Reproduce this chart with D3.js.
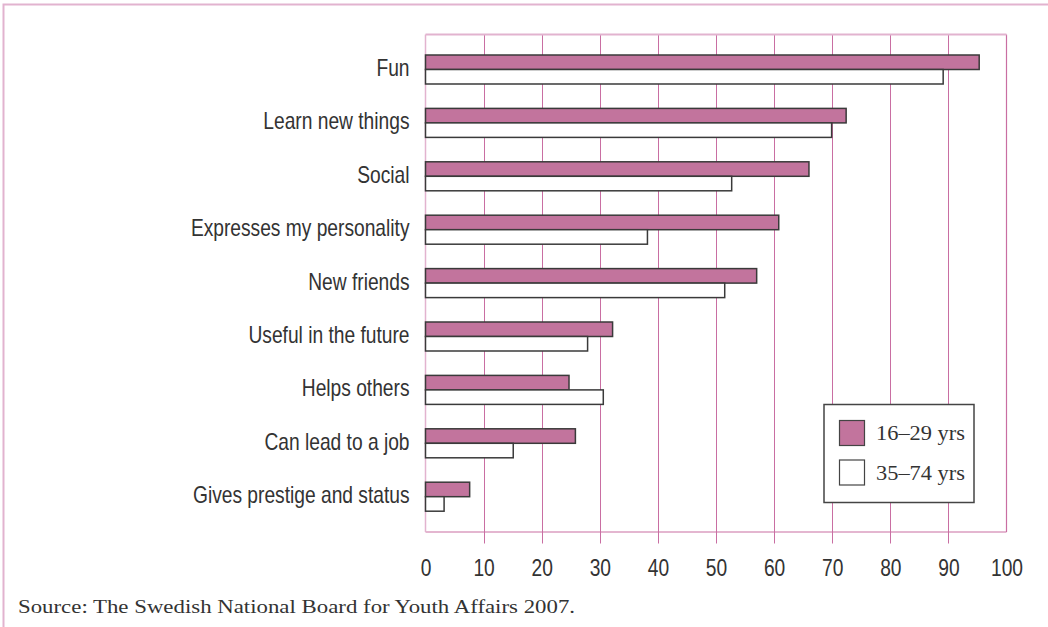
<!DOCTYPE html>
<html>
<head>
<meta charset="utf-8">
<script src="https://cdn.jsdelivr.net/npm/d3@7"></script>
<style>
  html, body { margin: 0; padding: 0; background: #fff; }
  svg { display: block; }
  .cond { font-family: "Liberation Sans", Arial, sans-serif; }
  .serif { font-family: "Liberation Serif", "DejaVu Serif", serif; }
</style>
</head>
<body>
<svg id="chart" width="1048" height="627"></svg>
<script>
const categories = ["Fun", "Learn new things", "Social", "Expresses my personality", "New friends",
  "Useful in the future", "Helps others", "Can lead to a job", "Gives prestige and status"];
const seriesNames = ["16–29 yrs", "35–74 yrs"];
const young = [95.3, 72.4, 66.0, 60.8, 57.0, 32.2, 24.7, 25.8, 7.6];
const older = [89.1, 69.9, 52.7, 38.2, 51.5, 27.9, 30.6, 15.1, 3.2];
const tickValues = [0, 10, 20, 30, 40, 50, 60, 70, 80, 90, 100];
const sourceText = "Source: The Swedish National Board for Youth Affairs 2007.";

const pink = "#c2749d";
const gridCol = "#c96ea2";
const frameCol = "#e2b3cf";
const ink = "#333";
const narrow = 0.8; // horizontal compression for the condensed sans labels

const svg = d3.select("#chart");

// outer frame (left + top)
svg.append("path")
  .attr("d", "M3.5,627 L3.5,4.5 L1048,4.5")
  .attr("fill", "none").attr("stroke", frameCol).attr("stroke-width", 2);

const plot = { left: 425.5, right: 1006.5, top: 34.5, bottom: 532 };

const x = d3.scaleLinear().domain([0, 100]).range([plot.left, plot.right]);
const y0 = d3.scaleBand().domain(categories).range([42.8, 523.4]).paddingInner(0.457).paddingOuter(0.2285);
const y1 = d3.scaleBand().domain(seriesNames).range([0, y0.bandwidth()]);

// gridlines + ticks
const g = svg.append("g");
g.selectAll("line.grid").data(tickValues.slice(1, -1)).join("line")
  .attr("class", "grid")
  .attr("x1", d => Math.round(x(d)) + 0.5).attr("x2", d => Math.round(x(d)) + 0.5)
  .attr("y1", plot.top).attr("y2", plot.bottom + 11.5)
  .attr("stroke", gridCol).attr("stroke-width", 1);

// plot border
g.append("line").attr("x1", x(100)).attr("x2", x(100)).attr("y1", plot.top).attr("y2", plot.bottom)
  .attr("stroke", gridCol).attr("stroke-width", 1.2);
g.append("line").attr("x1", x(0)).attr("x2", x(100)).attr("y1", plot.bottom).attr("y2", plot.bottom)
  .attr("stroke", gridCol).attr("stroke-width", 1.2);
g.append("line").attr("x1", x(0)).attr("x2", x(100)).attr("y1", plot.top).attr("y2", plot.top)
  .attr("stroke", frameCol).attr("stroke-width", 2);
g.append("line").attr("x1", x(0)).attr("x2", x(0)).attr("y1", plot.top).attr("y2", plot.bottom)
  .attr("stroke", frameCol).attr("stroke-width", 1.5);

// axis (labels only)
const axis = d3.axisBottom(x).tickValues(tickValues).tickSize(0).tickPadding(0).tickFormat(d3.format("d"));
const ax = svg.append("g").attr("transform", `translate(0,576)`).call(axis);
ax.select(".domain").remove();
ax.selectAll("text").attr("class", "cond").attr("font-size", 24).attr("fill", ink)
  .attr("y", 0).attr("dy", 0)
  .attr("transform", `scale(${narrow},1)`);

// bars
const rows = categories.map((c, i) => ({ c, vals: [young[i], older[i]] }));
const rowG = svg.append("g").selectAll("g").data(rows).join("g")
  .attr("transform", d => `translate(0,${y0(d.c)})`);
rowG.selectAll("rect").data(d => d.vals.map((v, j) => ({ s: seriesNames[j], v, j }))).join("rect")
  .attr("x", x(0))
  .attr("y", d => y1(d.s))
  .attr("width", d => x(d.v) - x(0))
  .attr("height", y1.bandwidth())
  .attr("fill", d => d.j === 0 ? pink : "#fff")
  .attr("stroke", "#3a3a3a").attr("stroke-width", 1.5);

// category labels
svg.append("g").selectAll("g").data(categories).join("g")
  .attr("transform", d => `translate(409.5,${y0(d) + y0.bandwidth() / 2 + 6.5}) scale(${narrow},1)`)
  .append("text")
  .attr("class", "cond")
  .attr("text-anchor", "end")
  .attr("font-size", 24).attr("fill", ink)
  .text(d => d);

// legend
const lg = svg.append("g");
lg.append("rect").attr("x", 824).attr("y", 404.5).attr("width", 150).attr("height", 98)
  .attr("fill", "#fff").attr("stroke", "#444").attr("stroke-width", 1.5);
const items = lg.selectAll("g.item").data(seriesNames).join("g").attr("class", "item")
  .attr("transform", (d, i) => `translate(839.5,${420.5 + i * 39.5})`);
items.append("rect").attr("width", 25).attr("height", 25)
  .attr("fill", (d, i) => i === 0 ? pink : "#fff").attr("stroke", "#444").attr("stroke-width", 1.2);
items.append("text").attr("class", "serif").attr("x", 36.5).attr("y", 19.5)
  .attr("font-size", 20).attr("fill", ink)
  .attr("textLength", 89).attr("lengthAdjust", "spacingAndGlyphs")
  .text(d => d);

// source
svg.append("text").attr("class", "serif").attr("x", 18).attr("y", 613)
  .attr("font-size", 19.5).attr("fill", ink)
  .attr("textLength", 557).attr("lengthAdjust", "spacingAndGlyphs")
  .text(sourceText);
</script>
</body>
</html>
